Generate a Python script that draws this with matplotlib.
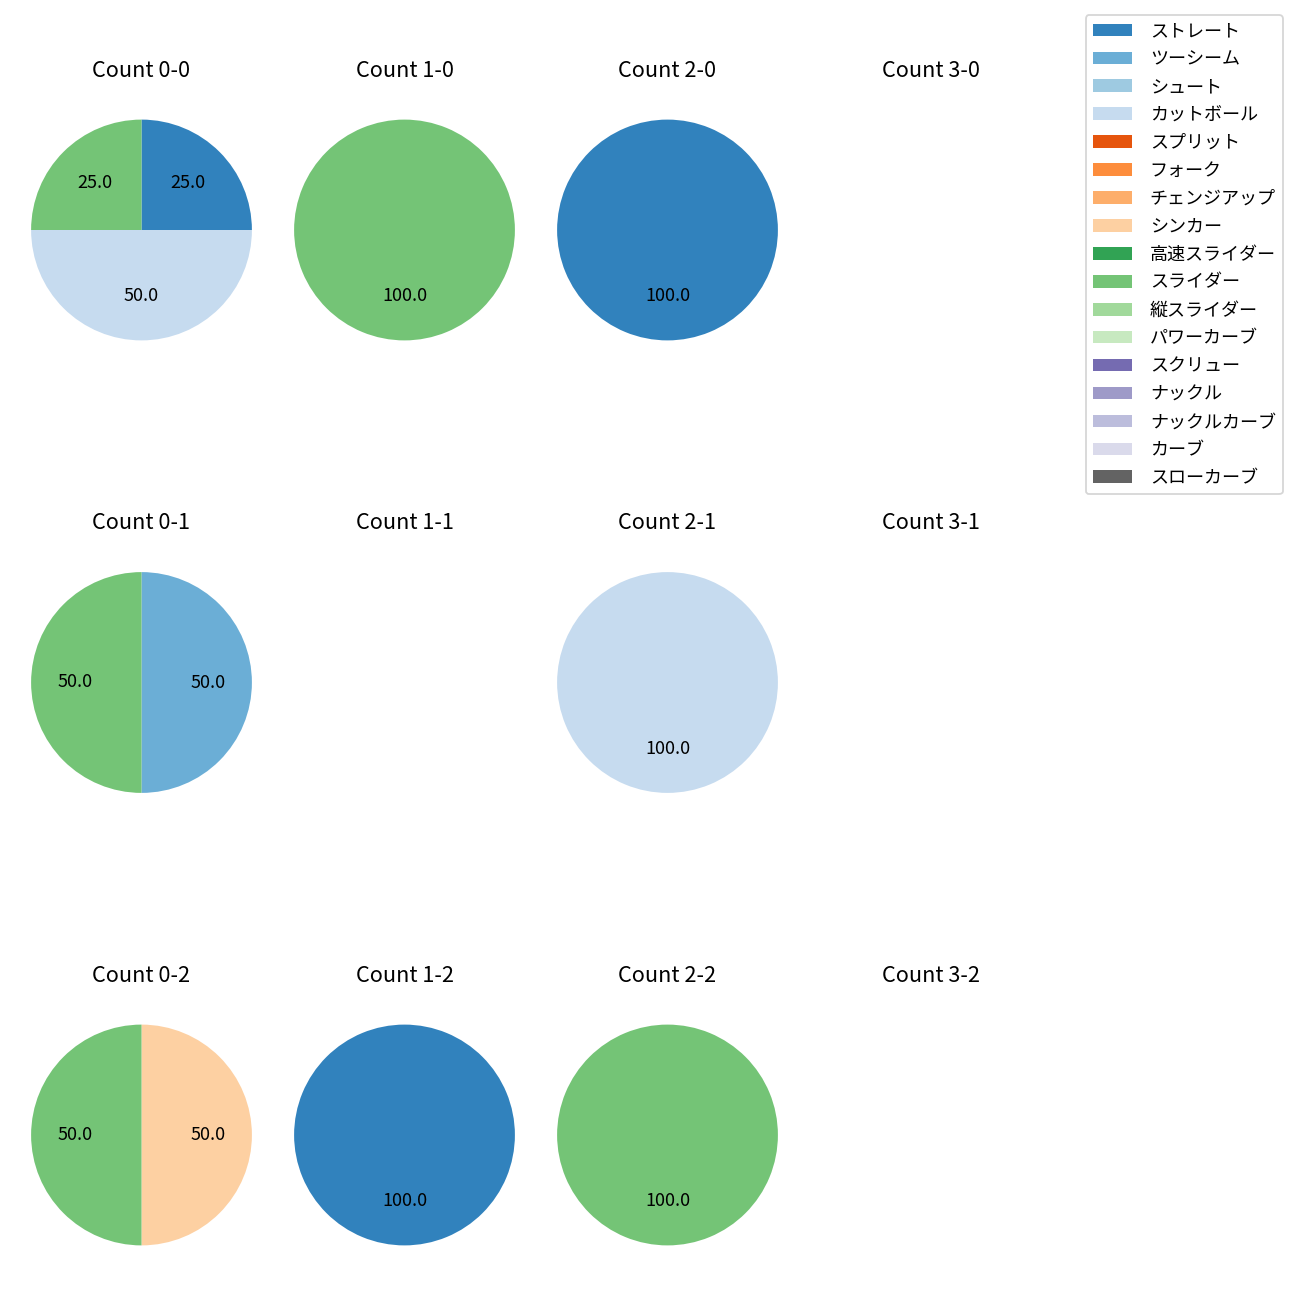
import matplotlib
matplotlib.use("Agg")
import matplotlib.pyplot as plt
from matplotlib.patches import Patch

plt.rcParams['font.family'] = ['Noto Sans CJK JP', 'DejaVu Sans']

# pitch types, in legend order (colours come from tab20c in the same order)
pitch_types = ["ストレート", "ツーシーム", "シュート", "カットボール", "スプリット",
               "フォーク", "チェンジアップ", "シンカー", "高速スライダー", "スライダー",
               "縦スライダー", "パワーカーブ", "スクリュー", "ナックル", "ナックルカーブ",
               "カーブ", "スローカーブ"]

# count cells: balls (column) - strikes (row)
balls = [0, 1, 2, 3]
strikes = [0, 1, 2]

# pitches thrown in each count (missing counts are empty)
count_pitches = {
    "0-0": ["ストレート", "カットボール", "スライダー"],
    "1-0": ["スライダー"],
    "2-0": ["ストレート"],
    "0-1": ["ツーシーム", "スライダー"],
    "2-1": ["カットボール"],
    "0-2": ["シンカー", "スライダー"],
    "1-2": ["ストレート"],
    "2-2": ["スライダー"],
}
count_values = {
    "0-0": [1, 2, 1],
    "1-0": [1],
    "2-0": [1],
    "0-1": [1, 1],
    "2-1": [1],
    "0-2": [1, 1],
    "1-2": [1],
    "2-2": [1],
}

cmap = plt.get_cmap("tab20c")
type_colors = {t: cmap(i) for i, t in enumerate(pitch_types)}

W = H = 1300
fig = plt.figure(figsize=(10, 10), dpi=130)

# grid layout in pixels (pie centres and axes box size)
col_x = [141.5, 404.5, 667.5, 930.5]
row_y = [230, 682.5, 1135]
box = 276

for r, s in enumerate(strikes):
    for c, b in enumerate(balls):
        ax = fig.add_axes([(col_x[c] - box / 2) / W, 1 - (row_y[r] + box / 2) / H,
                           box / W, box / H])
        key = f"{b}-{s}"
        ax.set_title(f"Count {key}", fontsize=12, pad=8.5)
        if key in count_values:
            vals = count_values[key]
            cols = [type_colors[t] for t in count_pitches[key]]
            ax.pie(vals, colors=cols, autopct="%.1f", startangle=90,
                   counterclock=False, textprops={"fontsize": 10})
        ax.set_xlim(-1.25, 1.25)
        ax.set_ylim(-1.25, 1.25)
        ax.axis("off")

handles = [Patch(facecolor=type_colors[t], label=t) for t in pitch_types]
fig.legend(handles=handles, loc="upper right", borderaxespad=0,
           bbox_to_anchor=(1283 / W, 1 - 15 / H), fontsize=10,
           handlelength=2.15, handletextpad=1.0, labelspacing=0.55)

fig.savefig("out.png")
